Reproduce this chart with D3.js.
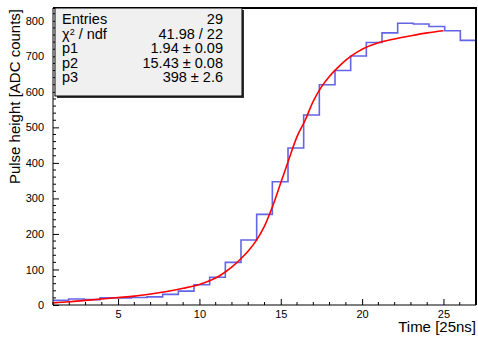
<!DOCTYPE html>
<html lang="en">
<head>
    <meta charset="UTF-8">
    <script src="https://d3js.org/d3.v7.min.js"></script>
    <title>Pulse height vs time</title>
    <style>
        html, body {
            margin: 0;
            padding: 0;
            background: white;
        }
        svg text {
            font-family: "Liberation Sans", Arial, sans-serif;
            fill: black;
        }
        .tick text {
            font-size: 11px;
        }
        .stats text {
            font-size: 14.5px;
        }
        .title {
            font-size: 15px;
        }
    </style>
</head>
<body>
    <script>
        // histogram: 27 bins between binLo and binHi
        const binLo = 1;
        const binHi = 27;
        const counts = [13, 17, 15, 20, 20, 21, 23, 30, 39, 57, 78, 120, 183, 255,
                        347, 442, 535, 620, 660, 701, 739, 766, 793, 791, 784, 772, 745];

        // fit curve
        const fitX = [1, 2, 3, 4, 5, 6, 7, 8, 9, 10, 11, 11.5, 12, 12.5, 13, 13.5, 14, 14.5,
                      15, 15.5, 16, 16.5, 17, 17.5, 18, 18.5, 19, 19.5, 20, 21, 22, 23, 24, 25];
        const fitY = [6, 9, 13, 17, 21, 25, 31, 38, 47, 58, 76, 90, 107, 128, 152, 182, 222, 278,
                      344, 410, 474, 520, 574, 614, 644, 668, 689, 706, 720, 738, 749, 758, 766, 772];

        const xTicks = [5, 10, 15, 20, 25];
        const yTicks = [0, 100, 200, 300, 400, 500, 600, 700, 800];

        const statsLabels = ["Entries", "\u03C7\u00B2 / ndf", "p1", "p2", "p3"];
        const statsValues = ["29", "41.98 / 22", "1.94 \u00B1 0.09", "15.43 \u00B1 0.08", "398 \u00B1 2.6"];

        const width = 478;
        const height = 341;
        const margin = { top: 8, right: 2, bottom: 36, left: 53 };

        const svg = d3.select('body')
          .append('svg')
          .attr('width', width)
          .attr('height', height);

        const x = d3.scaleLinear()
          .domain([binLo, binHi])
          .range([margin.left, width - margin.right]);

        const y = d3.scaleLinear()
          .domain([0, 836])
          .range([height - margin.bottom, margin.top]);

        // minor ticks
        const xMinor = d3.range(binLo, binHi + 0.001, 1).filter(v => v % 5 !== 0);
        const yMinor = d3.range(0, 836, 20).filter(v => v % 100 !== 0);

        svg.append('g')
          .selectAll('line')
          .data(xMinor)
          .join('line')
          .attr('x1', d => x(d)).attr('x2', d => x(d))
          .attr('y1', y(0)).attr('y2', y(0) - 3)
          .attr('stroke', 'black');

        svg.append('g')
          .selectAll('line')
          .data(yMinor)
          .join('line')
          .attr('x1', x(binLo)).attr('x2', x(binLo) + 3)
          .attr('y1', d => y(d)).attr('y2', d => y(d))
          .attr('stroke', 'black');

        const xAxis = svg.append('g')
          .attr('transform', `translate(0,${y(0)})`)
          .call(d3.axisBottom(x).tickValues(xTicks).tickSize(-6).tickPadding(5).tickSizeOuter(0));

        const yAxis = svg.append('g')
          .attr('transform', `translate(${x(binLo)},0)`)
          .call(d3.axisLeft(y).tickValues(yTicks).tickSize(-6).tickPadding(9).tickSizeOuter(0));

        [xAxis, yAxis].forEach(a => {
          a.select('.domain').remove();
          a.selectAll('.tick line').attr('stroke', 'black');
        });

        // histogram steps
        const edges = d3.range(counts.length + 1).map(i => binLo + i * (binHi - binLo) / counts.length);
        const steps = counts.map((c, i) => [edges[i], c]);
        steps.push([binHi, counts[counts.length - 1]]);

        svg.append('path')
          .attr('d', d3.line().x(d => x(d[0])).y(d => y(d[1])).curve(d3.curveStepAfter)(steps))
          .attr('fill', 'none')
          .attr('stroke', '#6464e6')
          .attr('stroke-width', 1.6);

        // fit
        const fitPoints = fitX.map((v, i) => [v, fitY[i]]);
        svg.append('path')
          .attr('d', d3.line().x(d => x(d[0])).y(d => y(d[1])).curve(d3.curveCatmullRom.alpha(0.5))(fitPoints))
          .attr('fill', 'none')
          .attr('stroke', '#ff0000')
          .attr('stroke-width', 1.6);

        // frame
        svg.append('line')
          .attr('x1', x(binLo)).attr('x2', x(binLo))
          .attr('y1', y.range()[1]).attr('y2', y(0))
          .attr('stroke', 'black');
        svg.append('line')
          .attr('x1', x(binLo)).attr('x2', x(binHi))
          .attr('y1', y(0)).attr('y2', y(0))
          .attr('stroke', 'black');
        svg.append('path')
          .attr('d', `M${x(binLo)},${y.range()[1]}H${x(binHi)}V${y(0)}`)
          .attr('fill', 'none')
          .attr('stroke', 'black')
          .attr('stroke-width', 2);

        // stats box
        const stats = svg.append('g').attr('class', 'stats');
        const box = { x0: 55, y0: 8, x1: 242, y1: 96 };
        stats.append('rect')
          .attr('x', box.x0 + 2).attr('y', box.y0 + 2)
          .attr('width', box.x1 - box.x0).attr('height', box.y1 - box.y0)
          .attr('fill', '#333');
        stats.append('rect')
          .attr('x', box.x0).attr('y', box.y0)
          .attr('width', box.x1 - box.x0).attr('height', box.y1 - box.y0)
          .attr('fill', '#f0f0f0')
          .attr('stroke', 'black');

        statsLabels.forEach((lab, i) => {
          const t = stats.append('text')
            .attr('x', 62)
            .attr('y', 24 + i * 14.5);
          if (i === 1) {
            t.append('tspan').text('\u03C7');
            t.append('tspan').attr('font-size', '9px').attr('dy', -4).text('2');
            t.append('tspan').attr('dy', 4).text(' / ndf');
          } else {
            t.text(lab);
          }
          stats.append('text')
            .attr('x', 223)
            .attr('y', 24 + i * 14.5)
            .attr('text-anchor', 'end')
            .text(statsValues[i]);
        });

        // axis titles
        svg.append('text')
          .attr('class', 'title')
          .attr('text-anchor', 'end')
          .attr('x', width - 2)
          .attr('y', 332)
          .text('Time [25ns]');

        svg.append('text')
          .attr('class', 'title')
          .attr('text-anchor', 'end')
          .attr('transform', `translate(20,9) rotate(-90)`)
          .text('Pulse height [ADC counts]');
    </script>
</body>
</html>
